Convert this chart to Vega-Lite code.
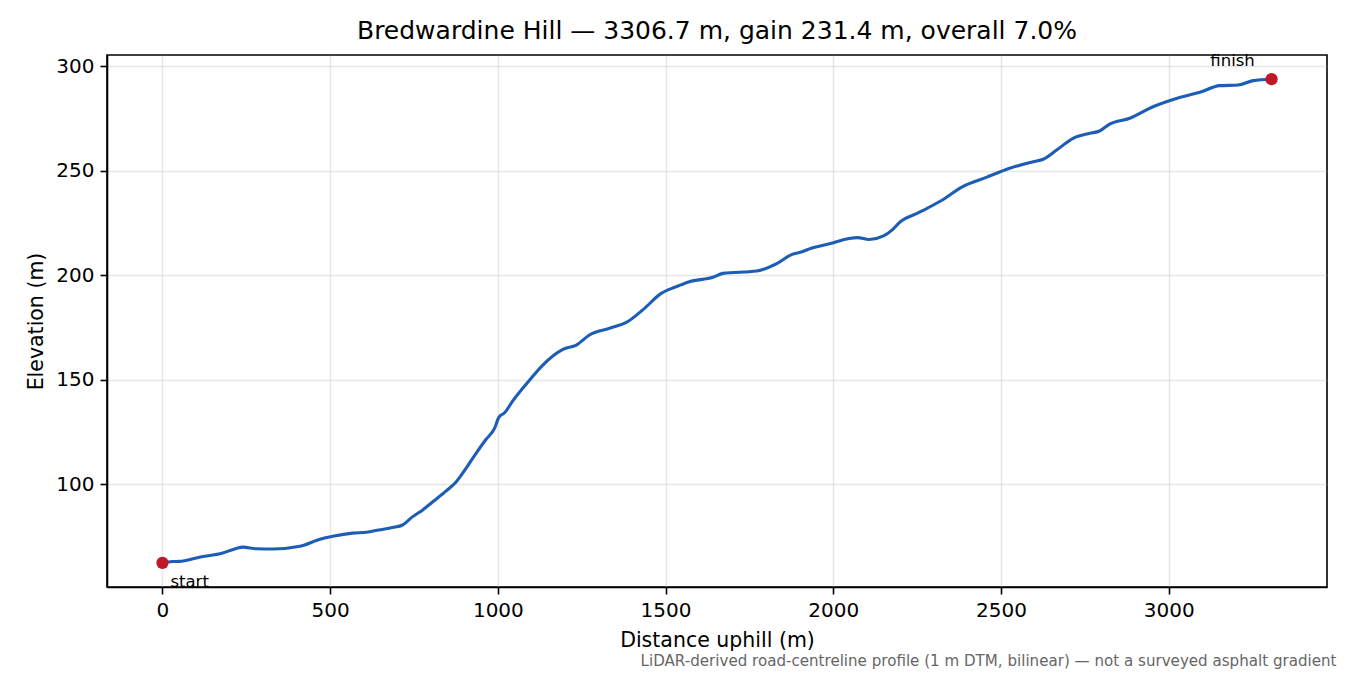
{
  "$schema": "https://vega.github.io/schema/vega-lite/v6.json",
  "autosize": "none",
  "width": 1220,
  "height": 532,
  "padding": {"left": 107, "top": 55, "right": 23, "bottom": 88},
  "background": "white",
  "title": {
    "text": "Bredwardine Hill — 3306.7 m, gain 231.4 m, overall 7.0%",
    "font": "DejaVu Sans",
    "fontSize": 25,
    "fontWeight": "normal",
    "color": "black",
    "offset": 9
  },
  "config": {
    "view": {"stroke": "black", "strokeWidth": 1.6},
    "axis": {
      "labelFont": "DejaVu Sans",
      "labelFontSize": 20,
      "labelColor": "black",
      "titleFont": "DejaVu Sans",
      "titleFontSize": 20.5,
      "titleFontWeight": "normal",
      "titleColor": "black",
      "tickColor": "black",
      "tickSize": 7,
      "tickWidth": 1.6,
      "labelPadding": 6,
      "domainColor": "black",
      "domainWidth": 1.6,
      "gridColor": "#b0b0b0",
      "gridOpacity": 0.3,
      "gridWidth": 1.5
    }
  },
  "datasets": {
    "profile": [
      {"distance": 0, "elevation": 62.3},
      {"distance": 30, "elevation": 62.9},
      {"distance": 50, "elevation": 63.0},
      {"distance": 110, "elevation": 65.0},
      {"distance": 180, "elevation": 67.0},
      {"distance": 220, "elevation": 69.2},
      {"distance": 240, "elevation": 69.8},
      {"distance": 280, "elevation": 69.0},
      {"distance": 330, "elevation": 68.9},
      {"distance": 410, "elevation": 70.2},
      {"distance": 470, "elevation": 73.6},
      {"distance": 508, "elevation": 75.0},
      {"distance": 567, "elevation": 76.5},
      {"distance": 608, "elevation": 76.9},
      {"distance": 645, "elevation": 78.0},
      {"distance": 686, "elevation": 79.2},
      {"distance": 716, "elevation": 80.4},
      {"distance": 746, "elevation": 84.4},
      {"distance": 776, "elevation": 87.6},
      {"distance": 806, "elevation": 91.5},
      {"distance": 846, "elevation": 96.7},
      {"distance": 876, "elevation": 101.1},
      {"distance": 905, "elevation": 107.5},
      {"distance": 935, "elevation": 114.7},
      {"distance": 965, "elevation": 121.4},
      {"distance": 990, "elevation": 126.6},
      {"distance": 1003, "elevation": 131.9},
      {"distance": 1020, "elevation": 134.1},
      {"distance": 1045, "elevation": 139.9},
      {"distance": 1095, "elevation": 149.8},
      {"distance": 1134, "elevation": 156.9},
      {"distance": 1194, "elevation": 164.4},
      {"distance": 1234, "elevation": 166.5},
      {"distance": 1273, "elevation": 171.3},
      {"distance": 1333, "elevation": 174.5},
      {"distance": 1387, "elevation": 177.7},
      {"distance": 1432, "elevation": 183.3},
      {"distance": 1487, "elevation": 191.2},
      {"distance": 1530, "elevation": 194.3},
      {"distance": 1571, "elevation": 196.8},
      {"distance": 1641, "elevation": 198.9},
      {"distance": 1671, "elevation": 200.8},
      {"distance": 1771, "elevation": 201.9},
      {"distance": 1833, "elevation": 205.6},
      {"distance": 1877, "elevation": 209.9},
      {"distance": 1907, "elevation": 211.1},
      {"distance": 1932, "elevation": 212.7},
      {"distance": 1992, "elevation": 215.1},
      {"distance": 2047, "elevation": 217.5},
      {"distance": 2072, "elevation": 217.9},
      {"distance": 2107, "elevation": 217.0},
      {"distance": 2150, "elevation": 218.7},
      {"distance": 2175, "elevation": 221.5},
      {"distance": 2200, "elevation": 225.5},
      {"distance": 2250, "elevation": 229.5},
      {"distance": 2270, "elevation": 231.1},
      {"distance": 2320, "elevation": 235.4},
      {"distance": 2386, "elevation": 242.3},
      {"distance": 2456, "elevation": 246.7},
      {"distance": 2526, "elevation": 251.1},
      {"distance": 2596, "elevation": 254.2},
      {"distance": 2626, "elevation": 255.4},
      {"distance": 2666, "elevation": 259.8},
      {"distance": 2715, "elevation": 265.4},
      {"distance": 2765, "elevation": 267.8},
      {"distance": 2794, "elevation": 268.9},
      {"distance": 2824, "elevation": 272.2},
      {"distance": 2884, "elevation": 275.0},
      {"distance": 2953, "elevation": 280.5},
      {"distance": 3023, "elevation": 284.5},
      {"distance": 3093, "elevation": 287.4},
      {"distance": 3152, "elevation": 290.6},
      {"distance": 3207, "elevation": 290.9},
      {"distance": 3252, "elevation": 293.0},
      {"distance": 3306.7, "elevation": 293.7}
    ],
    "ends": [
      {"distance": 0, "elevation": 62.3, "label": "start"},
      {"distance": 3306.7, "elevation": 293.7, "label": "finish"}
    ]
  },
  "layer": [
    {
      "data": {"name": "profile"},
      "mark": {"type": "line", "color": "#1c5db5", "strokeWidth": 3.1, "interpolate": "monotone"},
      "encoding": {
        "x": {
          "field": "distance",
          "type": "quantitative",
          "title": "Distance uphill (m)",
          "scale": {"domain": [-165.3, 3472], "nice": false, "zero": false},
          "axis": {"values": [0, 500, 1000, 1500, 2000, 2500, 3000], "format": "d", "titlePadding": 10}
        },
        "y": {
          "field": "elevation",
          "type": "quantitative",
          "title": "Elevation (m)",
          "scale": {"domain": [50.73, 305.27], "nice": false, "zero": false},
          "axis": {"values": [100, 150, 200, 250, 300], "format": "d", "titlePadding": 9}
        }
      }
    },
    {
      "data": {"name": "ends"},
      "mark": {"type": "point", "filled": true, "color": "#c1172a", "opacity": 1, "size": 150},
      "encoding": {
        "x": {"field": "distance", "type": "quantitative", "axis": null},
        "y": {"field": "elevation", "type": "quantitative"}
      }
    },
    {
      "data": {"name": "ends"},
      "transform": [{"filter": "datum.label === 'start'"}],
      "mark": {"type": "text", "font": "DejaVu Sans", "fontSize": 16.5, "color": "black", "align": "left", "baseline": "alphabetic", "dx": 8, "dy": 24},
      "encoding": {
        "x": {
          "field": "distance",
          "type": "quantitative",
          "axis": {
            "orient": "bottom",
            "grid": false,
            "labels": false,
            "ticks": false,
            "domain": false,
            "title": "LiDAR-derived road-centreline profile (1 m DTM, bilinear) — not a surveyed asphalt gradient",
            "titleFontSize": 15.1,
            "titleColor": "#666666",
            "titleAlign": "right",
            "titleAnchor": null,
            "titleBaseline": "middle",
            "titleX": 1229,
            "titleY": 73
          }
        },
        "y": {"field": "elevation", "type": "quantitative"},
        "text": {"field": "label"}
      }
    },
    {
      "data": {"name": "ends"},
      "transform": [{"filter": "datum.label === 'finish'"}],
      "mark": {"type": "text", "font": "DejaVu Sans", "fontSize": 16.5, "color": "black", "align": "center", "baseline": "alphabetic", "dx": -39, "dy": -13},
      "encoding": {
        "x": {"field": "distance", "type": "quantitative", "axis": null},
        "y": {"field": "elevation", "type": "quantitative"},
        "text": {"field": "label"}
      }
    }
  ],
  "resolve": {"axis": {"x": "independent"}}
}
